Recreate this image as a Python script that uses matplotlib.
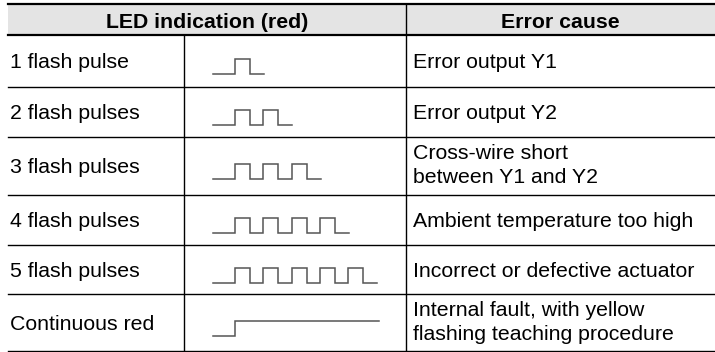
import matplotlib.pyplot as plt

# table content
headers = ["LED indication (red)", "Error cause"]
indications = ["1 flash pulse", "2 flash pulses", "3 flash pulses",
               "4 flash pulses", "5 flash pulses", "Continuous red"]
pulse_counts = [1, 2, 3, 4, 5, 0]          # 0 = continuous
causes = ["Error output Y1", "Error output Y2",
          "Cross-wire short\nbetween Y1 and Y2",
          "Ambient temperature too high",
          "Incorrect or defective actuator",
          "Internal fault, with yellow\nflashing teaching procedure"]

# layout in pixels
W, H = 715, 352
row_edges = [35, 86.5, 136.5, 194.5, 244.5, 294, 350.5]
x_left, x_col1, x_col2, x_right = 8, 184, 406, 715
font = "Liberation Sans"
fs = 15.3

fig = plt.figure(figsize=(W / 100, H / 100), dpi=100)
ax = fig.add_axes([0, 0, 1, 1])
ax.set_xlim(0, W)
ax.set_ylim(H, 0)
ax.axis("off")

# header
ax.fill_between([x_left, x_right], 3.5, row_edges[0], color="#e4e4e4", lw=0)
ax.plot([x_left, x_right], [3.5, 3.5], color="black", lw=1.6)
ax.plot([x_left, x_right], [row_edges[0], row_edges[0]], color="black", lw=1.6)
ax.text((x_left + x_col2) / 2, 27.5, headers[0], ha="center", va="baseline",
        fontsize=fs, fontweight="bold", family=font)
ax.text((x_col2 + x_right) / 2, 27.5, headers[1], ha="center", va="baseline",
        fontsize=fs, fontweight="bold", family=font)

# grid lines
for y in row_edges[1:]:
    ax.plot([x_left, x_right], [y, y], color="black", lw=1.0)
ax.plot([x_col1, x_col1], [row_edges[0], row_edges[-1]], color="black", lw=1.0)
ax.plot([x_col2, x_col2], [3.5, row_edges[-1]], color="black", lw=1.0)


def waveform(n, yc):
    lo, hi = yc + 13.5, yc - 1.5
    start, rise, width, period, tail = 213.3, 235, 15, 28.3, 14
    if n == 0:
        return [start, rise, rise, 379], [lo, lo, hi, hi]
    xs, ys = [start], [lo]
    for k in range(n):
        r = rise + k * period
        xs += [r, r, r + width, r + width]
        ys += [lo, hi, hi, lo]
    xs.append(xs[-1] + tail)
    ys.append(lo)
    return xs, ys


for i in range(len(indications)):
    yc = (row_edges[i] + row_edges[i + 1]) / 2
    ax.text(10, yc + 7.6, indications[i], ha="left", va="baseline",
            fontsize=fs, family=font)
    xs, ys = waveform(pulse_counts[i], yc)
    ax.plot(xs, ys, color="#555555", lw=1.1, solid_joinstyle="miter")
    lines = causes[i].split("\n")
    if len(lines) == 1:
        ax.text(413, yc + 7.6, lines[0], ha="left", va="baseline",
                fontsize=fs, family=font)
    else:
        b1 = yc - 6.2
        for j, s in enumerate(lines):
            ax.text(413, b1 + j * 23.5, s, ha="left", va="baseline",
                    fontsize=fs, family=font)

fig.savefig("out.png", dpi=100)
